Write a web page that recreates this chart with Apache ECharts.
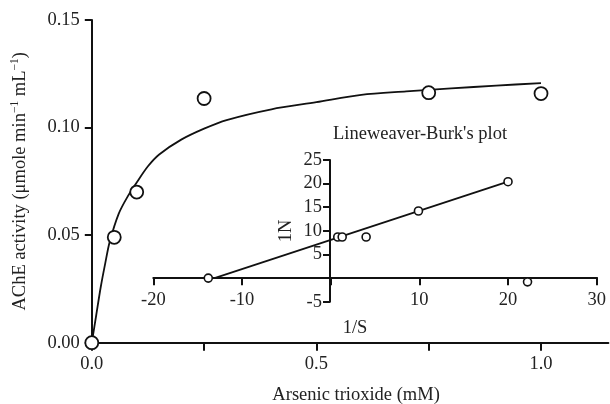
<!DOCTYPE html>
<html>
<head>
<meta charset="utf-8">
<script src="https://cdn.jsdelivr.net/npm/echarts@6/dist/echarts.min.js"></script>
<style>html,body{margin:0;padding:0;background:#fff}#c{width:610px;height:404px}</style>
</head>
<body>
<div id="c"></div>
<script>
// Main plot: measured points
var concX = [0, 0.05, 0.1, 0.25, 0.75, 1.0];
var activity = [0, 0.049, 0.070, 0.1135, 0.1162, 0.1158];
// Main plot: fitted curve
var curveX = [0, 0.01, 0.02, 0.03, 0.04, 0.06, 0.08, 0.1, 0.125, 0.15, 0.2, 0.25, 0.3, 0.4, 0.5, 0.6, 0.7, 0.8, 0.9, 1.0];
var curveY = [0, 0.013, 0.026, 0.037, 0.047, 0.060, 0.068, 0.0745, 0.082, 0.0875, 0.0945, 0.0995, 0.1035, 0.1085, 0.1118, 0.1152, 0.1168, 0.1182, 0.1195, 0.1207];
// Inset (Lineweaver-Burk) points
var lbX = [-13.8, 0.8, 1.3, 4.0, 9.9, 20.0, 22.2];
var lbY = [0, 8.7, 8.7, 8.7, 14.2, 20.4, -0.8];
// Inset fitted line
var fitX = [-13.1, 20];
var fitY = [0, 20.4];
// Tick values
var mainXTicks = [0, 0.25, 0.5, 0.75, 1.0];
var mainXLabels = [0, 0.5, 1.0];

function pairs(a, b) { return a.map(function (v, i) { return [v, b[i]]; }); }

var FONT = 'Liberation Serif';
var FS = 18.5;
var TXT = '#222';
var AX = '#111';

var chart = echarts.init(document.getElementById('c'), null, {renderer: 'canvas'});
chart.setOption({
  animation: false,
  backgroundColor: '#fff',
  textStyle: {fontFamily: FONT},
  grid: [
    // main plot
    {left: 91.8, right: 1.6, top: 20, bottom: 61.3, outerBoundsMode: 'none'},
    // inset data area
    {left: 153.3, right: 13.3, top: 160, bottom: 102.3, outerBoundsMode: 'none'},
    // inset x-axis carrier (bottom edge on y = 0)
    {left: 153.3, right: 13.3, top: 160, bottom: 126.7, outerBoundsMode: 'none'},
    // inset y-axis carrier (left edge on x = 0)
    {left: 330, right: 13.3, top: 160, bottom: 102.3, outerBoundsMode: 'none'}
  ],
  graphic: [
    {type: 'text', x: 420, y: 134, z: 10,
     style: {text: "Lineweaver-Burk's plot", fontFamily: FONT, fontSize: FS, fill: TXT,
             align: 'center', verticalAlign: 'middle'}}
  ],
  xAxis: [
    {gridIndex: 0, type: 'value', min: 0, max: 1.15,
     name: 'Arsenic trioxide (mM)', nameLocation: 'middle', nameGap: 43,
     nameTextStyle: {fontFamily: FONT, fontSize: FS, color: TXT, padding: [0, 0, 0, 12]},
     axisLine: {onZero: false, lineStyle: {color: AX, width: 2}},
     axisTick: {show: true, length: 8, customValues: mainXTicks, lineStyle: {color: AX, width: 2}},
     axisLabel: {customValues: mainXLabels, margin: 12, fontFamily: FONT, fontSize: FS, color: TXT,
                 formatter: function (v) { return v.toFixed(1); }},
     splitLine: {show: false}},
    {gridIndex: 1, type: 'value', min: -20, max: 30, show: false},
    {gridIndex: 2, type: 'value', min: -20, max: 30, interval: 10,
     name: '1/S', nameLocation: 'middle', nameGap: 41,
     nameTextStyle: {fontFamily: FONT, fontSize: FS, color: TXT, padding: [0, 40, 0, 0]},
     axisLine: {onZero: false, lineStyle: {color: AX, width: 2}},
     axisTick: {length: 8, lineStyle: {color: AX, width: 2}},
     axisLabel: {margin: 13, fontFamily: FONT, fontSize: FS, color: TXT,
                 formatter: function (v) { return v === 0 ? '' : String(v); }},
     splitLine: {show: false}},
    {gridIndex: 3, type: 'value', min: 0, max: 30, show: false}
  ],
  yAxis: [
    {gridIndex: 0, type: 'value', min: 0, max: 0.15, interval: 0.05,
     name: '{a|AChE activity (μmole min}{s|−1}{a| mL}{s|−1}{a|)}',
     nameLocation: 'middle', nameGap: 62, nameRotate: 90,
     nameTextStyle: {rich: {
       a: {fontFamily: FONT, fontSize: FS, color: TXT, lineHeight: 21, verticalAlign: 'bottom'},
       s: {fontFamily: FONT, fontSize: 11.5, color: TXT, lineHeight: 21, verticalAlign: 'top'}
     }},
     axisLine: {show: true, onZero: false, lineStyle: {color: AX, width: 2}},
     axisTick: {show: true, length: 7, lineStyle: {color: AX, width: 2}},
     axisLabel: {margin: 12, fontFamily: FONT, fontSize: FS, color: TXT,
                 formatter: function (v) { return v.toFixed(2); }},
     splitLine: {show: false}},
    {gridIndex: 1, type: 'value', min: -5, max: 25, show: false},
    {gridIndex: 2, type: 'value', min: 0, max: 25, show: false},
    {gridIndex: 3, type: 'value', min: -5, max: 25, interval: 5,
     name: '1N', nameLocation: 'middle', nameGap: 34, nameRotate: 90,
     nameTextStyle: {fontFamily: FONT, fontSize: FS, color: TXT},
     axisLine: {show: true, onZero: false, lineStyle: {color: AX, width: 2}},
     axisTick: {show: true, length: 7, lineStyle: {color: AX, width: 2}},
     axisLabel: {margin: 8, fontFamily: FONT, fontSize: FS, color: TXT,
                 formatter: function (v) { return v === 0 ? '' : String(v); }},
     splitLine: {show: false}}
  ],
  series: [
    {type: 'line', xAxisIndex: 0, yAxisIndex: 0, data: pairs(curveX, curveY),
     smooth: 0.3, showSymbol: false, symbol: 'none',
     lineStyle: {color: AX, width: 1.8}, z: 3},
    {type: 'scatter', xAxisIndex: 0, yAxisIndex: 0, data: pairs(concX, activity),
     symbol: 'circle', symbolSize: 13,
     itemStyle: {color: '#fff', borderColor: AX, borderWidth: 1.8, opacity: 1}, z: 5},
    {type: 'line', xAxisIndex: 1, yAxisIndex: 1, data: pairs(fitX, fitY),
     showSymbol: false, symbol: 'none',
     lineStyle: {color: AX, width: 1.8}, z: 3},
    {type: 'scatter', xAxisIndex: 1, yAxisIndex: 1, data: pairs(lbX, lbY),
     symbol: 'circle', symbolSize: 8,
     itemStyle: {color: '#fff', borderColor: AX, borderWidth: 1.6, opacity: 1}, z: 5}
  ]
});
</script>
</body>
</html>
